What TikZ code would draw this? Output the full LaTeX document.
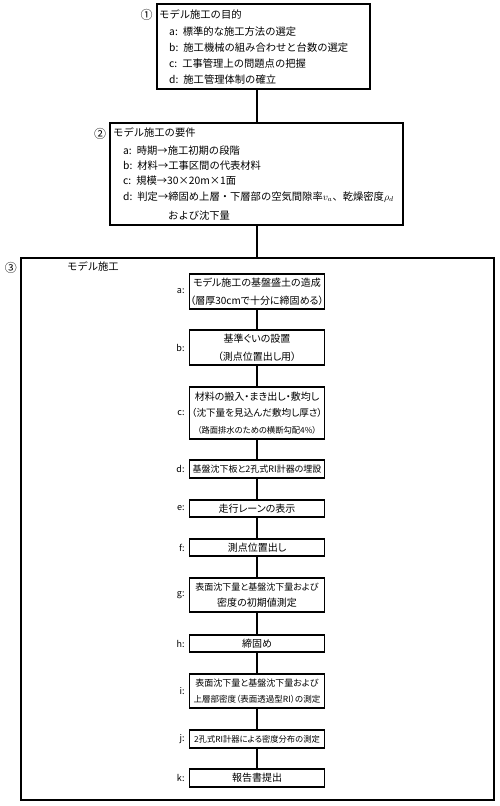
\documentclass[tikz,border=0pt]{standalone}
\usepackage{fontspec}
\setmainfont[RawFeature=+palt]{Noto Sans CJK JP}
\newfontfamily\numfont{Noto Sans CJK JP}
\begin{document}
\begin{tikzpicture}[x=1pt,y=-1pt,
  frame/.style={draw,line width=1.5pt,inner sep=0pt},
  txt/.style={anchor=west,inner sep=0pt,font=\numfont\fontsize{10.3}{12}\selectfont},
  ibox/.style={draw,line width=1.5pt,fill=white,minimum width=135pt,inner sep=0pt,align=center,font=\fontsize{10}{18}\selectfont},
  lab/.style={anchor=east,inner sep=0pt,font=\fontsize{9}{11}\selectfont},
  num/.style={inner sep=0pt,font=\numfont\fontsize{12}{14}\selectfont},
  link/.style={line width=1.5pt}]
\useasboundingbox (0,0) rectangle (500,806);
\coordinate (spine) at (257,0);
% box 1
\node[frame,minimum width=213pt,minimum height=85pt] (b1) at (263.5,46.5) {};
\node[num] (n1) at (146.5,15) {①};
\node[txt] (t1) at (159,15) {モデル施工の目的};
\node[txt] (t1a) at (169,32) {a:\hspace{5pt}標準的な施工方法の選定};
\node[txt] (t1b) at (169,48) {b:\hspace{5pt}施工機械の組み合わせと台数の選定};
\node[txt] (t1c) at (169,64) {c:\hspace{5pt}工事管理上の問題点の把握};
\node[txt] (t1d) at (169,80) {d:\hspace{5pt}施工管理体制の確立};
% box 2
\node[frame,minimum width=293pt,minimum height=102pt] (b2) at (256.5,174) {};
\node[num] (n2) at (100,134) {②};
\node[txt] (t2) at (113,133) {モデル施工の要件};
\node[txt] (t2a) at (123,151) {a:\hspace{5pt}時期→施工初期の段階};
\node[txt] (t2b) at (123,166) {b:\hspace{5pt}材料→工事区間の代表材料};
\node[txt] (t2c) at (123,181) {c:\hspace{5pt}規模→30×20m×1面};
\node[txt] (t2d) at (123,197) {d:\hspace{5pt}判定→締固め上層・下層部の空気間隙率$v_a$、乾燥密度$\rho_d$};
\node[txt] (t2e) at (168,216) {および沈下量};
% box 3
\node[frame,minimum width=473pt,minimum height=542pt] (b3) at (257.5,529) {};
\node[num] (n3) at (11,268) {③};
\node[txt] (t3) at (67,267) {モデル施工};
% inner boxes
\node[ibox,minimum height=35pt] (sa) at (257,291.5) {モデル施工の基盤盛土の造成\\（層厚30cmで十分に締固める）};
\node[ibox,minimum height=35pt] (sb) at (257,347.5) {基準ぐいの設置\\（測点位置出し用）};
\node[ibox,minimum height=52pt,font=\fontsize{10}{16.5}\selectfont] (sc) at (257,413) {材料の搬入・まき出し・敷均し\\{\fontsize{9.6}{11}\selectfont（沈下量を見込んだ敷均し厚さ）}\\{\fontsize{8.3}{9}\selectfont （路面排水のための横断勾配4\%）}};
\node[ibox,minimum height=18pt,font=\fontsize{9}{11}\selectfont] (sd) at (257,469) {基盤沈下板と2孔式RI計器の埋設};
\node[ibox,minimum height=17pt] (se) at (257,508.5) {走行レーンの表示};
\node[ibox,minimum height=17pt] (sf) at (257,547.5) {測点位置出し};
\node[ibox,minimum height=34pt,font=\fontsize{9}{16}\selectfont] (sg) at (257,595) {表面沈下量と基盤沈下量および\\{\fontsize{10}{11}\selectfont 密度の初期値測定}};
\node[ibox,minimum height=17pt] (sh) at (257,643.5) {締固め};
\node[ibox,minimum height=34pt,font=\fontsize{9}{16}\selectfont] (si) at (257,691) {表面沈下量と基盤沈下量および\\{\fontsize{8.5}{10}\selectfont 上層部密度（表面透過型RI）の測定}};
\node[ibox,minimum height=18pt,font=\fontsize{8.3}{10}\selectfont] (sj) at (257,739) {2孔式RI計器による密度分布の測定};
\node[ibox,minimum height=18pt] (sk) at (257,778) {報告書提出};
% labels
\foreach \n/\l in {sa/a,sb/b,sc/c,sd/d,se/e,sf/f,sg/g,sh/h,si/i,sj/j,sk/k}
  \node[lab] (l\n) at ([xshift=-4pt]\n.west) {\l:};
% connectors
\draw[link] (b1.south -| spine) -- (b2.north -| spine);
\draw[link] (b2.south -| spine) -- (b3.north -| spine);
\draw[link] (sa) -- (sb);
\draw[link] (sb) -- (sc);
\draw[link] (sc) -- (sd);
\draw[link] (sd) -- (se);
\draw[link] (se) -- (sf);
\draw[link] (sf) -- (sg);
\draw[link] (sg) -- (sh);
\draw[link] (sh) -- (si);
\draw[link] (si) -- (sj);
\draw[link] (sj) -- (sk);
\end{tikzpicture}
\end{document}
